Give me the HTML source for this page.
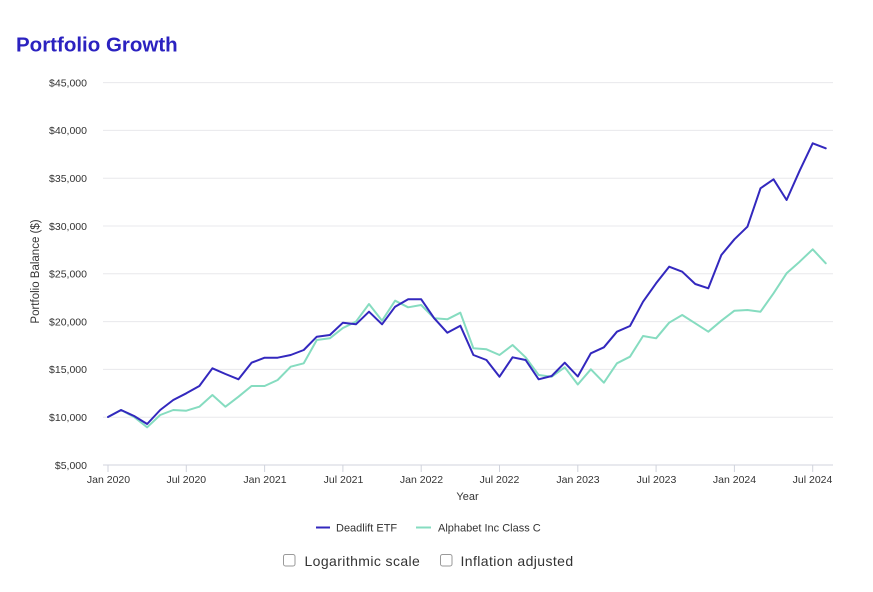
<!DOCTYPE html>
<html>
<head>
<meta charset="utf-8">
<style>
  html, body { margin:0; padding:0; background:#ffffff; }
  body { width:873px; height:592px; overflow:hidden; position:relative; font-family:"Liberation Sans", Arial, sans-serif; }
  svg { position:absolute; left:0; top:0; }
</style>
</head>
<body>
<svg width="873" height="592" viewBox="0 0 873 592" xmlns="http://www.w3.org/2000/svg">
  <rect x="0" y="0" width="873" height="592" fill="#ffffff"/>
  <!-- Title -->
  <text x="16" y="51.5" font-family="Liberation Sans, Arial, sans-serif" font-size="20.5" font-weight="bold" fill="#2b22c0">Portfolio Growth</text>

  <!-- Gridlines -->
  <g stroke="#e8e8ec" stroke-width="1">
    <line x1="103" y1="82.6" x2="833" y2="82.6"/>
    <line x1="103" y1="130.4" x2="833" y2="130.4"/>
    <line x1="103" y1="178.2" x2="833" y2="178.2"/>
    <line x1="103" y1="226" x2="833" y2="226"/>
    <line x1="103" y1="273.8" x2="833" y2="273.8"/>
    <line x1="103" y1="321.6" x2="833" y2="321.6"/>
    <line x1="103" y1="369.4" x2="833" y2="369.4"/>
    <line x1="103" y1="417.2" x2="833" y2="417.2"/>
  </g>
  <line x1="103" y1="465" x2="833" y2="465" stroke="#d0d3dc" stroke-width="1"/>
  <!-- x ticks -->
  <g stroke="#d0d3dc" stroke-width="1">
    <line x1="108" y1="465" x2="108" y2="472"/>
    <line x1="186.3" y1="465" x2="186.3" y2="472"/>
    <line x1="264.6" y1="465" x2="264.6" y2="472"/>
    <line x1="342.9" y1="465" x2="342.9" y2="472"/>
    <line x1="421.2" y1="465" x2="421.2" y2="472"/>
    <line x1="499.5" y1="465" x2="499.5" y2="472"/>
    <line x1="577.8" y1="465" x2="577.8" y2="472"/>
    <line x1="656.1" y1="465" x2="656.1" y2="472"/>
    <line x1="734.4" y1="465" x2="734.4" y2="472"/>
    <line x1="812.7" y1="465" x2="812.7" y2="472"/>
  </g>

  <!-- Y tick labels -->
  <g font-family="Liberation Sans, Arial, sans-serif" font-size="10.5" fill="#333333" text-anchor="end">
    <text x="87" y="86.4">$45,000</text>
    <text x="87" y="134.2">$40,000</text>
    <text x="87" y="182">$35,000</text>
    <text x="87" y="229.8">$30,000</text>
    <text x="87" y="277.6">$25,000</text>
    <text x="87" y="325.4">$20,000</text>
    <text x="87" y="373.2">$15,000</text>
    <text x="87" y="421">$10,000</text>
    <text x="87" y="468.8">$5,000</text>
  </g>
  <!-- Y axis title -->
  <text transform="translate(39,271.5) rotate(-90)" text-anchor="middle" font-family="Liberation Sans, Arial, sans-serif" font-size="11.5" fill="#333333">Portfolio Balance ($)</text>

  <!-- X tick labels -->
  <g font-family="Liberation Sans, Arial, sans-serif" font-size="10.5" fill="#333333" text-anchor="middle">
    <text x="108.5" y="483">Jan 2020</text>
    <text x="186.3" y="483">Jul 2020</text>
    <text x="265" y="483">Jan 2021</text>
    <text x="343.5" y="483">Jul 2021</text>
    <text x="421.5" y="483">Jan 2022</text>
    <text x="499.5" y="483">Jul 2022</text>
    <text x="578" y="483">Jan 2023</text>
    <text x="656.5" y="483">Jul 2023</text>
    <text x="734.5" y="483">Jan 2024</text>
    <text x="812.5" y="483">Jul 2024</text>
  </g>
  <text x="467.5" y="500" text-anchor="middle" font-family="Liberation Sans, Arial, sans-serif" font-size="11" fill="#333333">Year</text>

  <!-- Alphabet (light) -->
  <polyline fill="none" stroke="#86dcc0" stroke-width="2" stroke-linejoin="round" stroke-linecap="round"
    points="108,417 121.05,410 134.1,417 147.15,427.3 160.2,415 173.25,410 186.3,410.7 199.35,406.7 212.4,395 225.45,406.7 238.5,396.7 251.55,386 264.6,386 277.65,380 290.7,366.7 303.75,363.3 316.8,340 329.85,338.3 342.9,328 355.95,321.7 369,304 382.05,320.7 395.1,300.7 408.15,307.3 421.2,305 434.25,318.3 447.3,319.3 460.35,312.7 473.4,348.3 486.45,349.3 499.5,355 512.55,345 525.6,357.3 538.65,375 551.7,376.7 564.75,367.3 577.8,384.5 590.85,369.3 603.9,382.7 616.95,363.3 630,356.7 643.05,336 656.1,338.3 669.15,322.7 682.2,315 695.25,323.3 708.3,331.7 721.35,320.7 734.4,310.7 747.45,310 760.5,311.7 773.55,293.3 786.6,273.3 799.65,261.7 812.7,249.3 825.75,263.3"/>
  <!-- Deadlift ETF (dark) -->
  <polyline fill="none" stroke="#3328be" stroke-width="2" stroke-linejoin="round" stroke-linecap="round"
    points="108,417 121.05,410 134.1,416 147.15,424 160.2,410 173.25,400 186.3,393.3 199.35,386 212.4,368.3 225.45,374 238.5,379.3 251.55,362.7 264.6,357.7 277.65,357.7 290.7,355 303.75,350 316.8,336.7 329.85,335 342.9,322.7 355.95,324.3 369,311.7 382.05,324.3 395.1,306.7 408.15,299.3 421.2,299.3 434.25,318.3 447.3,332.7 460.35,325.7 473.4,355 486.45,360 499.5,376.7 512.55,357.3 525.6,360 538.65,379.3 551.7,376 564.75,362.7 577.8,376.5 590.85,353.3 603.9,347.3 616.95,331.7 630,326 643.05,301.7 656.1,283.3 669.15,266.7 682.2,271.7 695.25,284 708.3,288.3 721.35,255 734.4,239.3 747.45,226.7 760.5,188.3 773.55,179.3 786.6,200 799.65,170.7 812.7,143.3 825.75,148.3"/>

  <!-- Legend -->
  <line x1="316" y1="527.5" x2="330" y2="527.5" stroke="#3328be" stroke-width="2"/>
  <text x="336" y="531.3" font-family="Liberation Sans, Arial, sans-serif" font-size="11" fill="#333333">Deadlift ETF</text>
  <line x1="416" y1="527.5" x2="431" y2="527.5" stroke="#86dcc0" stroke-width="2"/>
  <text x="438" y="531.3" font-family="Liberation Sans, Arial, sans-serif" font-size="11" fill="#333333">Alphabet Inc Class C</text>

  <!-- Checkboxes -->
  <rect x="283.5" y="554.5" width="11.5" height="11.5" rx="2" ry="2" fill="#ffffff" stroke="#9a9a9a" stroke-width="1"/>
  <text x="304.5" y="566" font-family="Liberation Sans, Arial, sans-serif" font-size="14" letter-spacing="0.4" fill="#333333">Logarithmic scale</text>
  <rect x="440.5" y="554.5" width="11.5" height="11.5" rx="2" ry="2" fill="#ffffff" stroke="#9a9a9a" stroke-width="1"/>
  <text x="460.5" y="566" font-family="Liberation Sans, Arial, sans-serif" font-size="14" letter-spacing="0.4" fill="#333333">Inflation adjusted</text>
</svg>
</body>
</html>
